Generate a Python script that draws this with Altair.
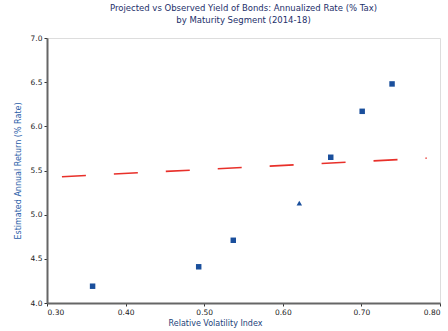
import altair as alt
import pandas as pd

# Observed points
obs_x = [0.358, 0.493, 0.537, 0.621, 0.661, 0.701, 0.739]
obs_y = [4.19, 4.41, 4.71, 5.13, 5.65, 6.17, 6.48]
obs_kind = ["square", "square", "square", "triangle-up", "square", "square", "square"]

# Fitted trend line end points
fit_x = [0.319, 0.783]
fit_y = [5.43, 5.64]

x_ticks = [0.30, 0.35, 0.40, 0.45, 0.50, 0.55, 0.60, 0.65, 0.70, 0.75, 0.80]
y_ticks = [4.0, 4.5, 5.0, 5.5, 6.0, 6.5, 7.0]

obs = pd.DataFrame({"x": obs_x, "y": obs_y, "kind": obs_kind})
fit = pd.DataFrame({"x": fit_x, "y": fit_y})

xs = alt.Scale(domain=[0.30, 0.80], nice=False, zero=False)
ys = alt.Scale(domain=[4.0, 7.0], nice=False, zero=False)

common = dict(grid=False, tickSize=3, labelFontSize=7.5, titleFontSize=8,
              titleFontWeight="normal", labelColor="#222", domainColor="#666",
              domainWidth=2, tickColor="#333")

x_axis = alt.Axis(values=x_ticks, format=".2f", title="Relative Volatility Index",
                  titleColor="#1d3f7a", titlePadding=4, titleX=168, **common)
y_axis = alt.Axis(values=y_ticks, format=".1f", title="Estimated Annual Return (% Rate)",
                  titleColor="#2a5ea8", titlePadding=8, **common)

line = alt.Chart(fit).mark_line(color="#e8302a", strokeWidth=1.6, strokeDash=[24, 28]).encode(
    x=alt.X("x:Q", scale=xs, axis=x_axis),
    y=alt.Y("y:Q", scale=ys, axis=y_axis),
)

pts = alt.Chart(obs).mark_point(filled=True, size=30, color="#1a4f9c", opacity=1).encode(
    x=alt.X("x:Q", scale=xs),
    y=alt.Y("y:Q", scale=ys),
    shape=alt.Shape("kind:N", scale=None, legend=None),
)

chart = (line + pts).properties(
    width=393,
    height=265,
    autosize=alt.AutoSizeParams(type="none"),
    padding={"left": 47, "top": 38, "right": 8, "bottom": 28},
    title=alt.TitleParams(
        text=["Projected vs Observed Yield of Bonds: Annualized Rate (% Tax)",
              "by Maturity Segment (2014-18)"],
        fontSize=8.5, fontWeight="normal", color="#1d2f6a", anchor="middle",
        offset=10, lineHeight=12,
    ),
).configure_view(stroke=None).configure(font="DejaVu Sans")

chart.save("out.html", embed_options={"renderer": "svg", "actions": False})
